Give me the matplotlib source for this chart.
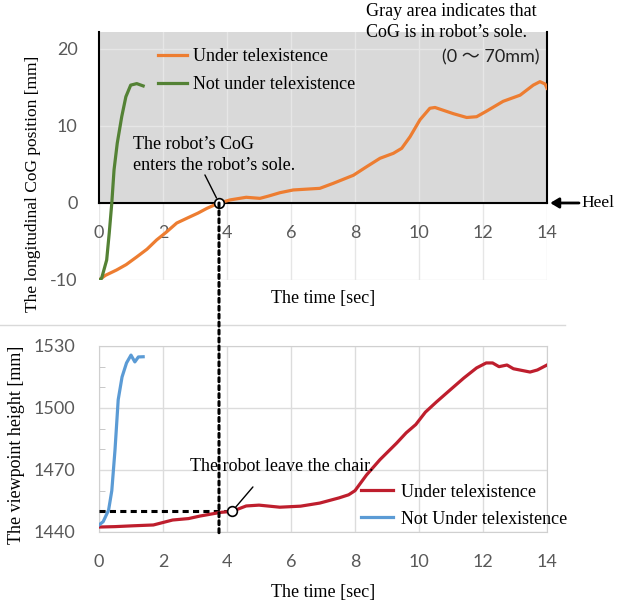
import matplotlib
matplotlib.use('Agg')
import matplotlib.pyplot as plt
from matplotlib.lines import Line2D
from matplotlib.patches import ConnectionPatch

plt.rcParams['axes.unicode_minus'] = False

# --- data ---
# upper panel: longitudinal CoG position [mm]
t_cog_tele = [0, 0.2, 0.55, 0.85, 1.18, 1.5, 1.8, 2.1, 2.43, 2.84, 3.1, 3.37, 3.75,
              4.1, 4.6, 5.03, 5.3, 5.66, 6.07, 6.5, 6.9, 7.32, 7.95, 8.36, 8.78,
              9.2, 9.46, 9.72, 10.03, 10.34, 10.5, 11.07, 11.49, 11.8, 12.1,
              12.63, 13.16, 13.57, 13.78, 13.94, 14.0]
cog_tele = [-10, -9.4, -8.7, -8.0, -7.0, -6.0, -4.8, -3.8, -2.6, -1.8, -1.3, -0.7, 0,
            0.4, 0.74, 0.6, 0.9, 1.34, 1.69, 1.8, 1.9, 2.55, 3.6, 4.7, 5.8,
            6.45, 7.1, 8.6, 10.8, 12.3, 12.4, 11.6, 11.1, 11.2, 11.9,
            13.2, 14.0, 15.3, 15.75, 15.45, 14.9]

t_cog_direct = [0, 0.08, 0.24, 0.32, 0.4, 0.47, 0.57, 0.71, 0.84, 0.99, 1.18, 1.38]
cog_direct = [-10, -9.8, -7.4, -3.9, 0, 4.3, 7.75, 11.2, 13.8, 15.3, 15.5, 15.2]

# lower panel: viewpoint height [mm]
t_h_tele = [0, 0.5, 1.06, 1.7, 2.3, 2.8, 3.15, 3.8, 4.16, 4.6, 5.0, 5.65, 6.3,
            6.9, 7.5, 7.8, 8.0, 8.36, 8.78, 9.3, 9.6, 9.9, 10.2, 10.55, 10.97,
            11.4, 11.8, 12.1, 12.3, 12.5, 12.75, 12.95, 13.47, 13.7, 14.0]
h_tele = [1442.4, 1442.6, 1443, 1443.4, 1445.8, 1446.5, 1447.7, 1449.5, 1450, 1452.6,
          1453, 1452, 1452.5, 1454, 1456.5, 1458, 1460, 1467.6, 1475, 1483, 1488,
          1492, 1498, 1503, 1508.7, 1514.5, 1519.4, 1521.8, 1521.8, 1520, 1520.8,
          1519, 1517.4, 1518.4, 1520.8]

t_h_direct = [0, 0.13, 0.3, 0.4, 0.5, 0.6, 0.72, 0.86, 1.0, 1.12, 1.23, 1.38]
h_direct = [1443.4, 1445, 1450.6, 1460, 1479.7, 1504, 1515, 1521.8, 1525.6,
            1522.3, 1524.7, 1524.8]

x_ticks = [0, 2, 4, 6, 8, 10, 12, 14]
cog_ticks = [-10, 0, 10, 20]
h_ticks = [1440, 1470, 1500, 1530]
h_minor = [1450, 1460, 1480, 1490, 1510, 1520]

cog_enter_t = 3.75
chair_leave_t, chair_leave_h = 4.16, 1450

sans = 'Lato'
serif = 'Liberation Serif'
tick_col = '#595959'

W, H = 618, 608
fig = plt.figure(figsize=(W / 100, H / 100), dpi=100)


def fx(px):
    return px / W


def fy(py):
    return 1 - py / H


# ---------------- upper panel ----------------
ax1 = fig.add_axes([fx(99), fy(280), 448 / W, 248 / H])
ax1.set_xlim(0, 14)
ax1.set_ylim(-10, 22.2)
ax1.axhspan(0, 22.2, color='#d9d9d9', zorder=0, lw=0)
ax1.set_xticks(x_ticks)
ax1.set_yticks(cog_ticks)
ax1.grid(True, color='#e6e6e6', lw=1, zorder=0.5)
ax1.set_axisbelow(True)
ax1.spines['top'].set_visible(False)
ax1.spines['bottom'].set_position(('data', 0))
for s in ['left', 'right']:
    ax1.spines[s].set_bounds(0, 22.2)
for s in ['left', 'right', 'bottom']:
    ax1.spines[s].set_color('black')
    ax1.spines[s].set_linewidth(1.5)
    ax1.spines[s].set_zorder(3)
ax1.tick_params(length=0, labelcolor=tick_col, labelsize=13, pad=16)
ax1.tick_params(axis='y', pad=15.5)
for lab in ax1.get_xticklabels() + ax1.get_yticklabels():
    lab.set_family(sans)

ax1.plot(t_cog_tele, cog_tele, color='#ED7D31', lw=2.3, label='Under telexistence', zorder=4)
ax1.plot(t_cog_direct, cog_direct, color='#548235', lw=2.3, label='Not under telexistence', zorder=4)
ax1.legend(loc='upper left', bbox_to_anchor=(0.132, 0.935), frameon=False,
           prop={'family': serif, 'size': 13}, borderpad=0, handlelength=1.6,
           handletextpad=0.35, labelspacing=0.62, borderaxespad=0)

ax1.plot(cog_enter_t, 0, 'o', mfc='white', mec='black', ms=7, mew=1.2, zorder=6)
ax1.annotate('', xy=(cog_enter_t, 0), xytext=(3.31, 3.64),
             arrowprops=dict(arrowstyle='-', color='black', lw=1, shrinkA=0, shrinkB=4))
ax1.text(1.06, 6.2, 'The robot\u2019s CoG\nenters the robot\u2019s sole.',
         family=serif, fontsize=13, ha='left', va='center', linespacing=1.3)

ax1.annotate('', xy=(14.1, 0), xytext=(15.0, 0), annotation_clip=False,
             arrowprops=dict(arrowstyle='-|>,head_length=0.5,head_width=0.3',
                             color='black', lw=2, shrinkA=0, shrinkB=0))
ax1.text(15.08, 0, 'Heel', family=serif, fontsize=12.5, ha='left', va='center', clip_on=False)

ax1.text(0.5, (280 - 298) / 248, 'The time [sec]', transform=ax1.transAxes,
         family=serif, fontsize=13, ha='center', va='center')

fig.text(fx(366), fy(22), 'Gray area indicates that\nCoG is in robot\u2019s sole.',
         family=serif, fontsize=13, ha='left', va='center', linespacing=1.3)
fig.text(fx(540), fy(57), '(0 \uff5e 70mm)', family=[sans, 'Noto Sans CJK JP'],
         fontsize=13, ha='right', va='center', color='#222222')
fig.text(fx(33), fy(184), 'The longitudinal CoG position [mm]', family=serif,
         fontsize=12.5, rotation=90, ha='center', va='center')

# separator
fig.add_artist(Line2D([0, fx(565)], [fy(325), fy(325)], color='#d9d9d9', lw=1))

# ---------------- lower panel ----------------
ax2 = fig.add_axes([fx(99), fy(532), 448 / W, 186 / H])
ax2.set_xlim(0, 14)
ax2.set_ylim(1440, 1530)
ax2.set_xticks(x_ticks)
ax2.set_yticks(h_ticks)
ax2.set_yticks(h_minor, minor=True)
ax2.grid(True, which='major', color='#dcdcdc', lw=1)
ax2.set_axisbelow(True)
for s in ax2.spines.values():
    s.set_color('#d0d0d0')
ax2.tick_params(which='major', length=0, labelcolor=tick_col, labelsize=13, pad=16)
ax2.tick_params(axis='y', which='major', pad=17)
ax2.tick_params(axis='y', which='minor', direction='in', length=4, color='#bfbfbf')
for lab in ax2.get_xticklabels() + ax2.get_yticklabels():
    lab.set_family(sans)

ax2.plot(t_h_tele, h_tele, color='#BE1E2D', lw=2.3, label='Under telexistence', zorder=4)
ax2.plot(t_h_direct, h_direct, color='#5B9BD5', lw=2.3, label='Not Under telexistence', zorder=4)
ax2.legend(loc='upper left', bbox_to_anchor=(0.585, 0.26), frameon=False,
           prop={'family': serif, 'size': 13}, borderpad=0, handlelength=1.75,
           handletextpad=0.45, labelspacing=0.55, borderaxespad=0)

ax2.plot([0, chair_leave_t], [chair_leave_h, chair_leave_h], color='black', lw=2.2,
         ls=(0, (2.0, 1.4)), zorder=3)
ax2.plot(chair_leave_t, chair_leave_h, 'o', mfc='white', mec='black', ms=7, mew=1.2, zorder=6)
ax2.annotate('', xy=(chair_leave_t, chair_leave_h), xytext=(4.81, 1461.8),
             arrowprops=dict(arrowstyle='-', color='black', lw=1, shrinkA=0, shrinkB=4))
ax2.text(2.84, 1471.5, 'The robot leave the chair.', family=serif, fontsize=13,
         ha='left', va='center', zorder=5)

ax2.text(0.5, (532 - 593) / 186, 'The time [sec]', transform=ax2.transAxes,
         family=serif, fontsize=13, ha='center', va='center')
fig.text(fx(17), fy(445), 'The viewpoint height [mm]', family=serif,
         fontsize=13, rotation=90, ha='center', va='center')

# dotted guide from the CoG event down into the lower panel
con = ConnectionPatch(xyA=(cog_enter_t, 0), coordsA=ax1.transData,
                      xyB=(cog_enter_t, 1438.5), coordsB=ax2.transData,
                      color='black', lw=2.2, linestyle=(0, (1.3, 1.3)), zorder=5)
fig.add_artist(con)

fig.savefig('out.png', dpi=100)
